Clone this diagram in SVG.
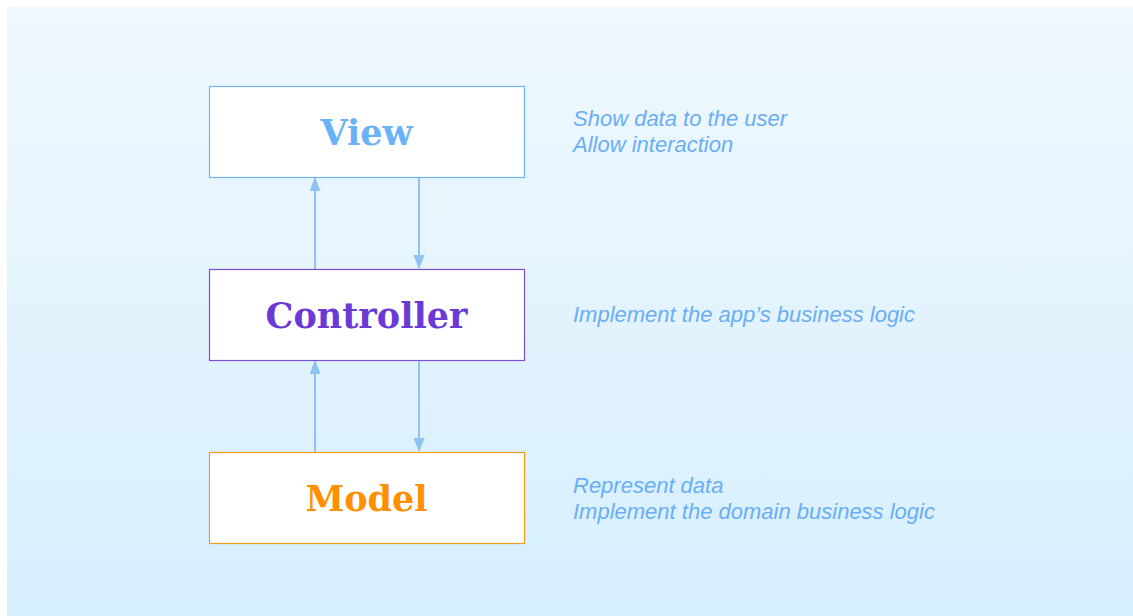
<svg xmlns="http://www.w3.org/2000/svg" width="1133" height="616" viewBox="0 0 1133 616">
  <defs>
    <linearGradient id="bg" x1="0" y1="0" x2="0" y2="1">
      <stop offset="0" stop-color="#F0F8FE"/>
      <stop offset="1" stop-color="#D6EFFD"/>
    </linearGradient>
    <marker id="arrow" viewBox="0 0 14 11" refX="13" refY="5.5" markerWidth="14" markerHeight="11" markerUnits="userSpaceOnUse" orient="auto">
      <path d="M0,0 L14,5.5 L0,11 Z" fill="#8EC3F2"/>
    </marker>
  </defs>
  <style>
    .box { fill: #FFFFFF; stroke-width: 1.2; }
    .title { font-family: "DejaVu Serif", Georgia, serif; font-weight: bold; font-size: 35px; text-anchor: middle; }
    .note { font-family: "Liberation Sans", Arial, sans-serif; font-style: italic; font-size: 22px; fill: #6AAEF5; }
    .conn { stroke: #8EC3F2; stroke-width: 2; fill: none; marker-end: url(#arrow); }
  </style>
  <rect x="7" y="7" width="1126" height="609" fill="url(#bg)"/>

  <g id="connectors">
    <line class="conn" x1="315" y1="269" x2="315" y2="178"/>
    <line class="conn" x1="419" y1="177" x2="419" y2="268"/>
    <line class="conn" x1="315" y1="452" x2="315" y2="361"/>
    <line class="conn" x1="419" y1="360" x2="419" y2="451"/>
  </g>

  <g id="view">
    <rect class="box" x="209.5" y="86.5" width="315" height="91" stroke="#6FB2F6"/>
    <text class="title" x="366.5" y="145" fill="#6AB2F7">View</text>
  </g>
  <g id="controller">
    <rect class="box" x="209.5" y="269.5" width="315" height="91" stroke="#7B4FDB"/>
    <text class="title" x="366.5" y="328" fill="#6B3AD6">Controller</text>
  </g>
  <g id="model">
    <rect class="box" x="209.5" y="452.5" width="315" height="91" stroke="#F59A1F"/>
    <text class="title" x="366.5" y="511" fill="#FF9000">Model</text>
  </g>

  <g id="view-note">
    <text class="note" x="573" y="126">Show data to the user</text>
    <text class="note" x="573" y="152">Allow interaction</text>
  </g>
  <g id="controller-note">
    <text class="note" x="573" y="322">Implement the app’s business logic</text>
  </g>
  <g id="model-note">
    <text class="note" x="573" y="493">Represent data</text>
    <text class="note" x="573" y="519">Implement the domain business logic</text>
  </g>
</svg>
